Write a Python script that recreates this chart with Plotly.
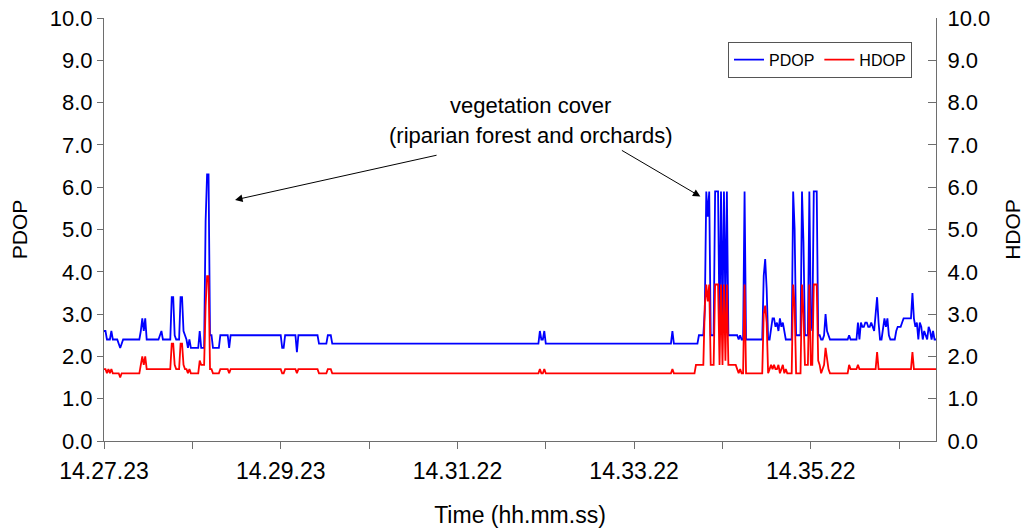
import plotly.graph_objects as go

N_SAMPLES = 566

# PDOP values, as (sample index where value starts, value)
pdop_steps = [(0,2.6),(2,2.4),(5,2.6),(6,2.4),(10,2.3),(11,2.2),(12,2.3),(13,2.4),(25,2.6),(26,2.9),(27,2.6),
    (28,2.9),(29,2.4),(38,2.5),(39,2.6),(40,2.4),(46,3.4),(48,2.5),(49,2.4),(52,3.4),(54,2.6),(55,2.5),(56,2.4),
    (57,2.2),(58,2.4),(59,2.2),(65,2.6),(66,2.2),(69,5.2),(70,6.3),(72,2.5),(74,2.2),(79,2.5),(85,2.2),(86,2.5),
    (121,2.2),(123,2.5),(131,2.1),(132,2.5),(146,2.3),(152,2.5),(155,2.3),(296,2.6),(297,2.4),(299,2.6),(300,2.3),
    (386,2.6),(387,2.3),(404,2.5),(408,3.1),(409,5.9),(410,5.3),(411,5.9),(412,2.5),(415,5.9),(418,2.6),(419,5.9),
    (420,2.8),(421,5.9),(422,3.0),(423,5.9),(424,2.5),(431,2.4),(432,2.5),(433,2.4),(435,5.9),(436,2.4),(448,3.9),
    (449,4.3),(450,3.6),(451,2.4),(453,2.6),(454,2.9),(456,2.7),(457,2.8),(458,2.6),(459,2.9),(460,2.7),(461,2.8),
    (462,2.6),(463,2.4),(468,5.9),(469,5.0),(470,2.5),(474,5.9),(475,4.7),(476,2.5),(479,5.9),(480,2.9),(481,2.6),
    (482,5.9),(485,2.5),(487,2.4),(489,2.5),(490,3.0),(491,2.6),(492,2.5),(493,2.4),(506,2.5),(507,2.4),(512,2.8),
    (513,2.4),(514,2.8),(515,2.7),(517,2.8),(519,2.7),(521,2.8),(522,2.7),(523,2.6),(524,3.0),(525,3.4),(526,2.8),
    (527,2.4),(529,2.6),(530,2.9),(531,2.7),(532,2.9),(533,2.5),(534,2.4),(538,2.6),(539,2.7),(542,2.8),(543,2.9),
    (549,3.5),(550,2.9),(551,2.7),(552,2.8),(553,2.4),(554,2.8),(555,2.7),(556,2.4),(557,2.6),(558,2.5),(559,2.4),
    (560,2.7),(561,2.6),(562,2.4),(563,2.6),(564,2.4)]

# HDOP values
hdop_steps = [(0,1.7),(2,1.6),(3,1.7),(4,1.6),(5,1.7),(6,1.6),(11,1.5),(12,1.6),(25,1.8),(26,2.0),(27,1.8),
    (28,2.0),(29,1.7),(46,2.3),(48,1.8),(49,1.7),(52,2.3),(54,1.8),(55,1.7),(57,1.6),(58,1.7),(59,1.6),(65,1.9),
    (66,1.8),(69,3.2),(70,3.9),(72,1.7),(74,1.6),(79,1.7),(85,1.6),(86,1.7),(121,1.6),(123,1.7),(131,1.6),(132,1.7),
    (146,1.6),(152,1.7),(155,1.6),(296,1.7),(297,1.6),(299,1.7),(300,1.6),(386,1.7),(387,1.6),(402,1.8),(408,3.2),
    (409,3.7),(410,3.3),(411,3.7),(412,1.8),(415,3.7),(418,1.8),(419,3.7),(420,1.8),(421,3.7),(422,1.9),(423,3.7),
    (424,1.8),(430,1.7),(431,1.6),(432,1.7),(433,1.6),(435,3.7),(436,1.6),(448,3.0),(449,3.2),(450,2.8),(451,1.6),
    (452,1.7),(453,1.8),(454,1.7),(455,1.8),(456,1.7),(458,1.8),(459,1.6),(460,1.7),(461,1.8),(462,1.6),(463,1.7),
    (464,1.6),(468,3.7),(469,3.2),(470,1.6),(474,3.7),(475,3.0),(476,1.8),(479,3.7),(480,1.8),(482,3.7),(485,1.9),
    (486,1.8),(487,1.6),(488,1.7),(489,1.8),(490,2.2),(491,1.9),(492,1.7),(493,1.6),(506,1.8),(507,1.7),(512,1.8),
    (513,1.7),(525,2.1),(526,1.7),(549,2.1),(550,1.7)]

tick_positions = [0, 60, 120, 180, 240, 300, 360, 420, 480, 540]
tick_labels = ["14.27.23", "", "14.29.23", "", "14.31.22", "", "14.33.22", "", "14.35.22", ""]
y_ticks = [0, 1, 2, 3, 4, 5, 6, 7, 8, 9, 10]


def expand(steps, n):
    out = []
    for k, (start, val) in enumerate(steps):
        end = steps[k + 1][0] if k + 1 < len(steps) else n
        out.extend([val] * (end - start))
    return out[:n]


pdop = expand(pdop_steps, N_SAMPLES)
hdop = expand(hdop_steps, N_SAMPLES)
idx = list(range(N_SAMPLES))

FONT = "Liberation Sans, Arial, sans-serif"
AX = "#6e6e6e"

fig = go.Figure()
fig.add_trace(go.Scatter(x=idx, y=pdop, mode="lines", name="PDOP",
                         line=dict(color="#0000ff", width=1.8), yaxis="y"))
fig.add_trace(go.Scatter(x=idx, y=hdop, mode="lines", name="HDOP",
                         line=dict(color="#ff0000", width=1.8), yaxis="y2"))

fig.update_layout(
    width=1034, height=532,
    margin=dict(l=96, r=106, t=10, b=99, autoexpand=False),
    paper_bgcolor="white", plot_bgcolor="white",
    font=dict(family=FONT, size=21, color="black"),
    showlegend=True,
    legend=dict(orientation="h", x=0.75, y=0.944, xanchor="left", yanchor="top",
                bordercolor="#555", borderwidth=1, bgcolor="white",
                font=dict(size=16), itemwidth=30, tracegroupgap=0),
    xaxis=dict(range=[0, N_SAMPLES - 1], tickmode="array", tickvals=tick_positions,
               ticktext=tick_labels, ticks="outside", ticklen=7, tickcolor=AX,
               tickfont=dict(size=23), automargin=False,
               showline=True, linecolor=AX, linewidth=1, showgrid=False, zeroline=False,
               title=dict(text="Time (hh.mm.ss)", standoff=24, font=dict(size=23)),
               ticklabelstandoff=2),
    yaxis=dict(range=[0, 10], tickvals=y_ticks, tickformat=".1f", ticks="outside",
               ticklen=6, tickcolor=AX, showline=True, linecolor=AX, linewidth=1,
               tickfont=dict(size=22), automargin=False, ticklabeloverflow="allow",
               showgrid=False, zeroline=False,
               title=dict(text="PDOP", standoff=27, font=dict(size=21))),
    yaxis2=dict(range=[0, 10], tickvals=y_ticks, tickformat=".1f", ticks="inside",
                ticklen=8, tickcolor=AX, showline=True, linecolor=AX, linewidth=1,
                tickfont=dict(size=22), automargin=False, ticklabelstandoff=6,
                ticklabeloverflow="allow",
                showgrid=False, zeroline=False, overlaying="y", side="right",
                title=dict(text="HDOP", standoff=16, font=dict(size=21))),
)

fig.add_annotation(xref="paper", yref="paper", x=0.513, y=(441 - 106) / 423, showarrow=False,
                   text="vegetation cover", font=dict(size=22), yanchor="middle")
fig.add_annotation(xref="paper", yref="paper", x=0.513, y=(441 - 136) / 423, showarrow=False,
                   text="(riparian forest and orchards)", font=dict(size=22), yanchor="middle")
fig.add_annotation(x=89, y=5.7, xref="x", yref="y", text="", showarrow=True,
                   arrowhead=2, arrowsize=1.5, arrowwidth=1, arrowcolor="black",
                   ax=203, ay=-45)
fig.add_annotation(x=405, y=5.78, xref="x", yref="y", text="", showarrow=True,
                   arrowhead=2, arrowsize=1.5, arrowwidth=1, arrowcolor="black",
                   ax=-80, ay=-47)

fig.write_html("out.html")
